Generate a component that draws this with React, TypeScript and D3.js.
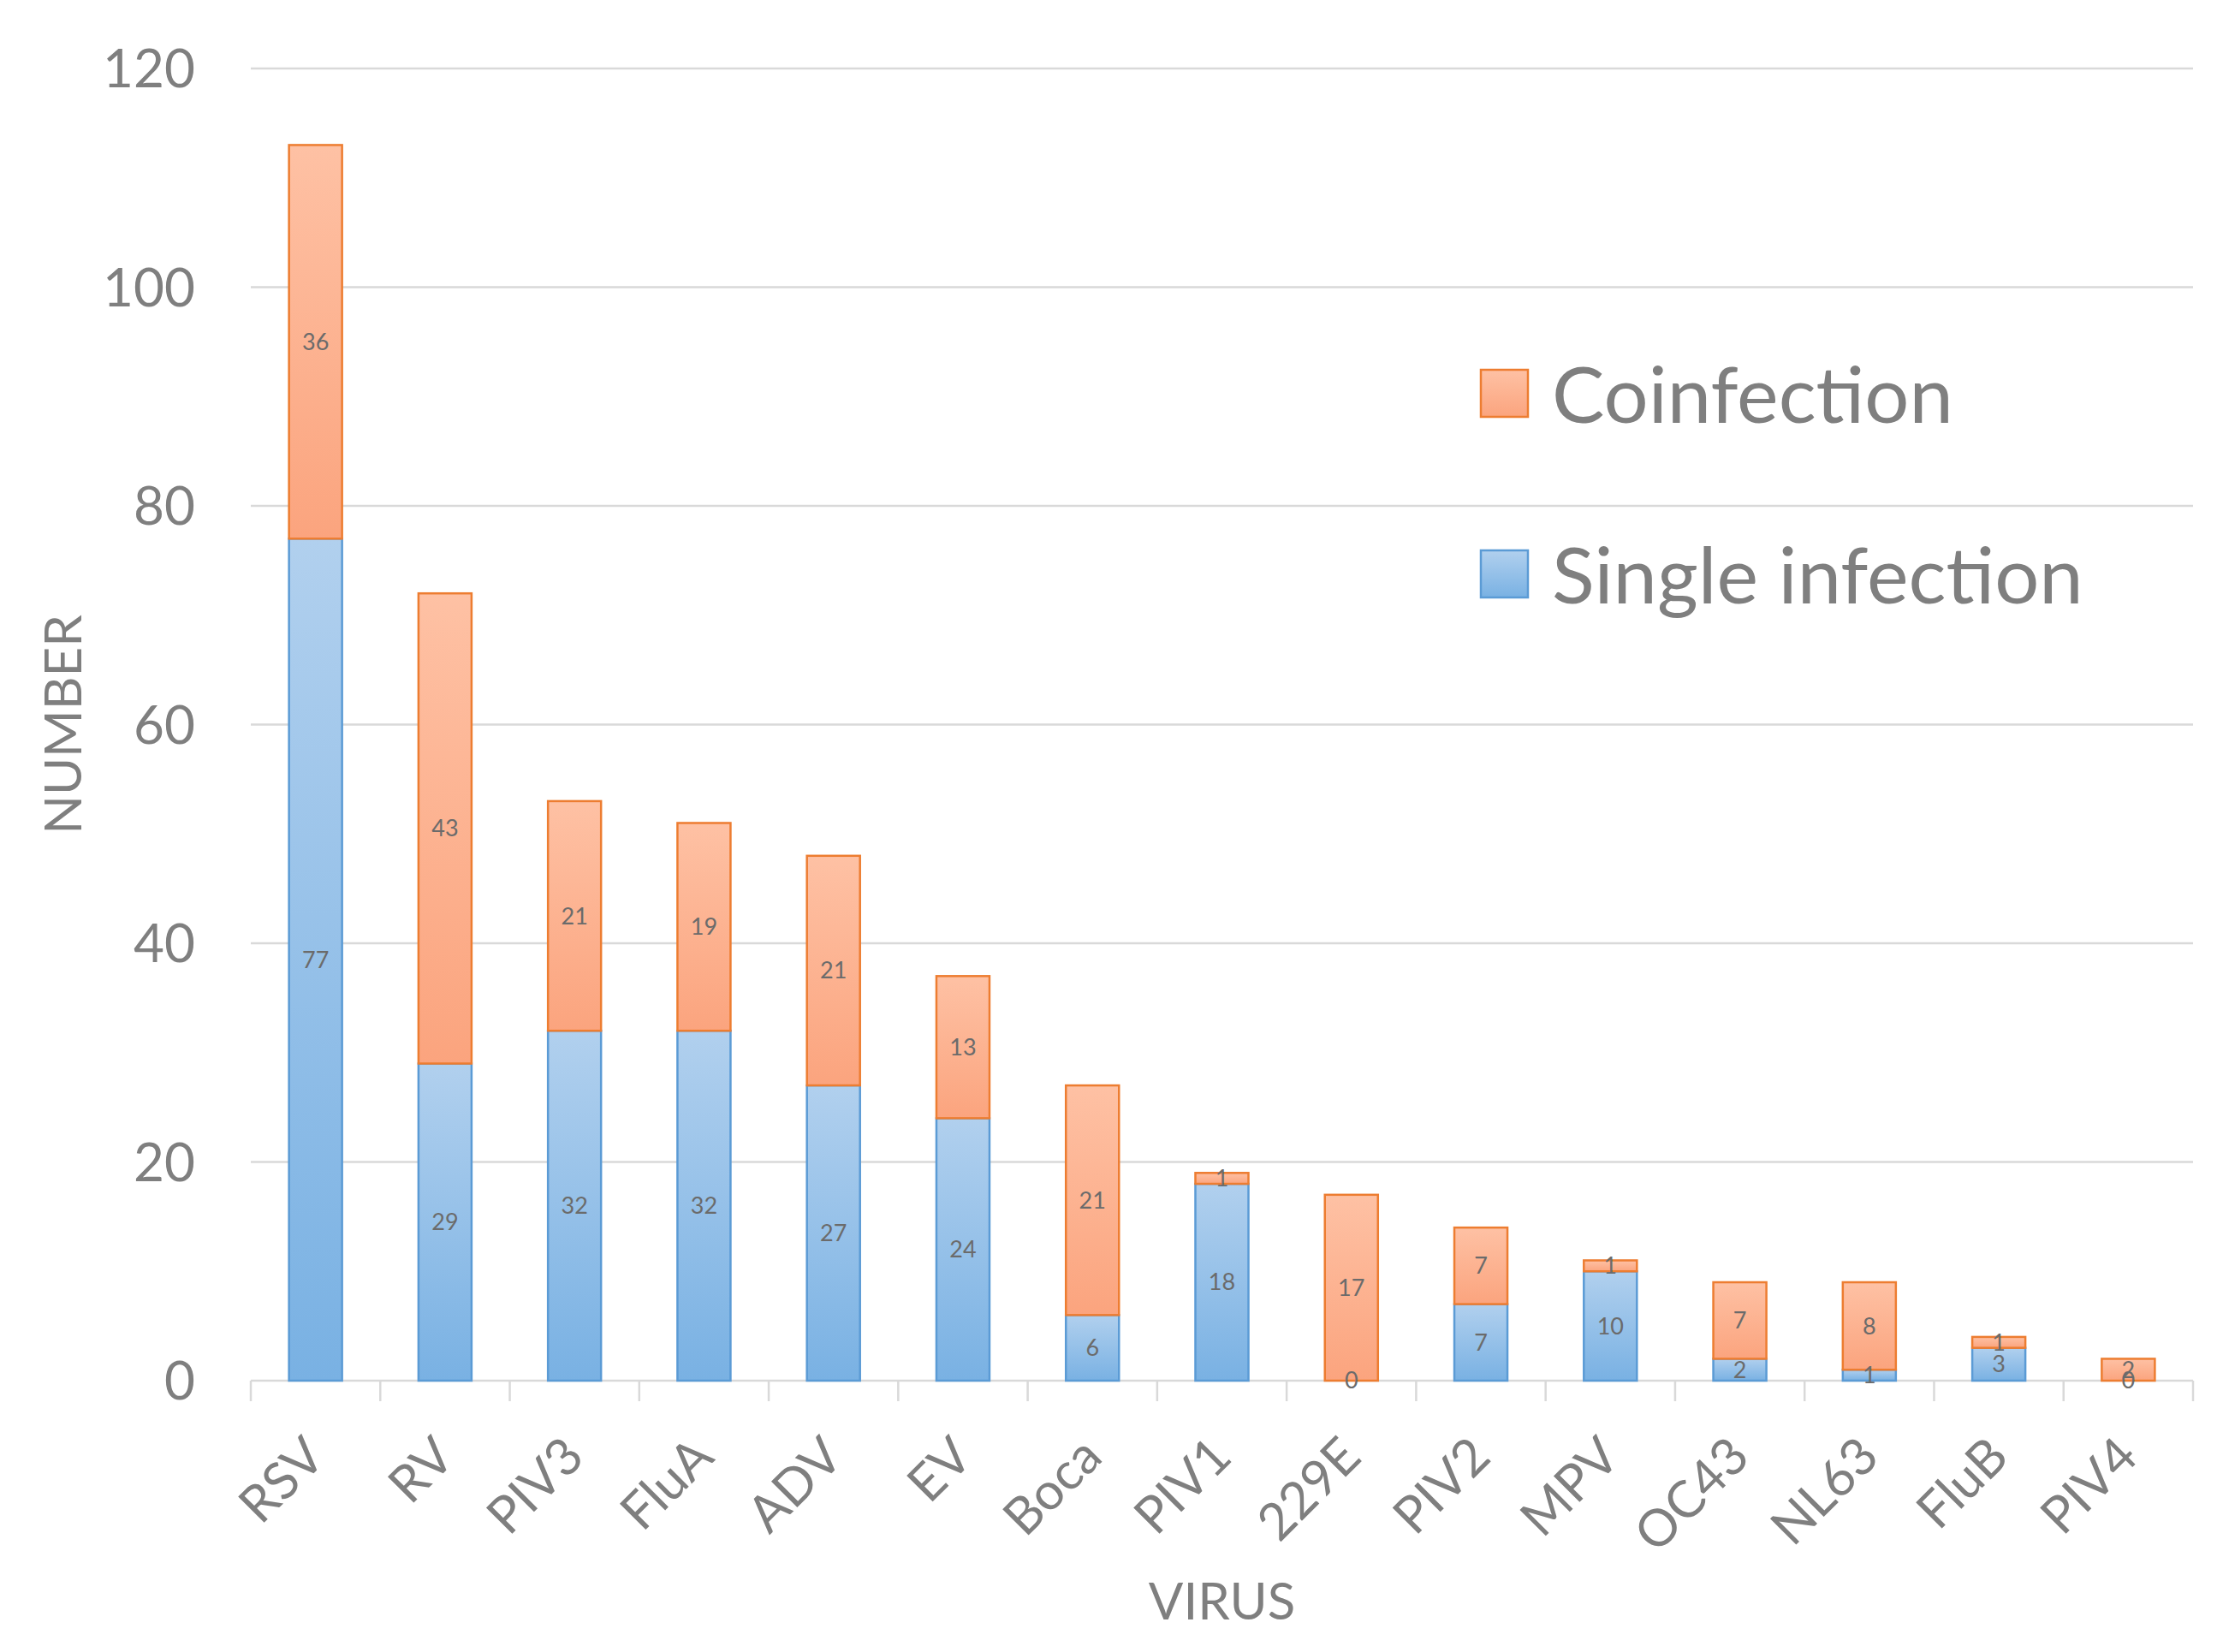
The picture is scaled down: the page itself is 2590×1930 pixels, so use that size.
import * as d3 from 'd3';

const categories = ['RSV', 'RV', 'PIV3', 'FluA', 'ADV', 'EV', 'Boca', 'PIV1', '229E', 'PIV2', 'MPV', 'OC43', 'NL63', 'FluB', 'PIV4'];
const singleInfection = [77, 29, 32, 32, 27, 24, 6, 18, 0, 7, 10, 2, 1, 3, 0];
const coinfection = [36, 43, 21, 19, 21, 13, 21, 1, 17, 7, 1, 7, 8, 1, 2];
const yTicks = [0, 20, 40, 60, 80, 100, 120];
const seriesNames = ['Single infection', 'Coinfection'];

const W = 2590;
const H = 1930;
const FONT = 'Lato, "Open Sans", sans-serif';
const GREY = '#7f7f7f';

export default function App() {
  const left = 293;
  const right = 2562;
  const top = 80;
  const bottom = 1613;

  const x = d3.scaleBand<string>().domain(categories).range([left, right]).paddingInner(0.59).paddingOuter(0.295);
  const xTick = d3.scaleBand<string>().domain(categories).range([left, right]);
  const y = d3.scaleLinear().domain([0, 120]).range([bottom, top]);

  const rows = categories.map((c, i) => ({ c, single: singleInfection[i], co: coinfection[i] }));
  const stacked = d3.stack<any>().keys(['single', 'co'])(rows);

  const fills = ['url(#gBlue)', 'url(#gOrange)'];
  const strokes = ['#5b9bd5', '#ed7d31'];

  return (
    <svg width={W} height={H} style={{ position: 'absolute', left: 0, top: 0, background: '#fff' }} fontFamily={FONT}>
      <defs>
        <linearGradient id="gBlue" x1="0" y1="0" x2="0" y2="1">
          <stop offset="0" stopColor="#b1d0ee" />
          <stop offset="1" stopColor="#79b1e3" />
        </linearGradient>
        <linearGradient id="gOrange" x1="0" y1="0" x2="0" y2="1">
          <stop offset="0" stopColor="#fec1a4" />
          <stop offset="1" stopColor="#fba47e" />
        </linearGradient>
      </defs>

      {/* gridlines + y tick labels */}
      {yTicks.map(t => (
        <g key={t}>
          <line x1={left} x2={right} y1={y(t)} y2={y(t)} stroke="#d9d9d9" strokeWidth={2.5} />
          <text x={228} y={y(t)} dy="0.36em" textAnchor="end" fontSize={62} fill={GREY}>{t}</text>
        </g>
      ))}

      {/* category ticks */}
      {[...categories.map(c => xTick(c)!), right].map((tx, i) => (
        <line key={i} x1={tx} x2={tx} y1={bottom} y2={bottom + 24} stroke="#d9d9d9" strokeWidth={2.5} />
      ))}

      {/* bars */}
      {stacked.map((s, si) => (
        <g key={si}>
          {s.map((d, i) => (
            d[1] - d[0] > 0 ? (
              <rect key={i} x={x(categories[i])} width={x.bandwidth()} y={y(d[1])} height={y(d[0]) - y(d[1])}
                fill={fills[si]} stroke={strokes[si]} strokeWidth={2.5} />
            ) : null
          ))}
        </g>
      ))}

      {/* data labels */}
      {stacked.map((s, si) => (
        <g key={'l' + si}>
          {s.map((d, i) => (
            <text key={i} x={x(categories[i])! + x.bandwidth() / 2} y={y((d[0] + d[1]) / 2)} dy="0.35em"
              textAnchor="middle" fontSize={27} fill="#6b6b6b">{d[1] - d[0]}</text>
          ))}
        </g>
      ))}

      {/* category labels */}
      {categories.map(c => {
        const cx = xTick(c)! + xTick.bandwidth() / 2;
        return (
          <text key={c} transform={`translate(${cx + 14},${bottom + 92}) rotate(-45)`} textAnchor="end" fontSize={60} fill={GREY}>{c}</text>
        );
      })}

      {/* axis titles */}
      <text x={(left + right) / 2} y={1892} textAnchor="middle" fontSize={60} fill={GREY}>VIRUS</text>
      <text transform={`translate(95,${(top + bottom) / 2}) rotate(-90)`} textAnchor="middle" fontSize={60} fill={GREY}>NUMBER</text>

      {/* legend */}
      {[1, 0].map((si, k) => {
        const ly = [432, 643][k];
        return (
          <g key={si}>
            <rect x={1730} y={ly} width={55} height={55} fill={fills[si]} stroke={strokes[si]} strokeWidth={2.5} />
            <text x={1813} y={ly + 62} fontSize={92} fill={GREY}>{seriesNames[si]}</text>
          </g>
        );
      })}
    </svg>
  );
}
